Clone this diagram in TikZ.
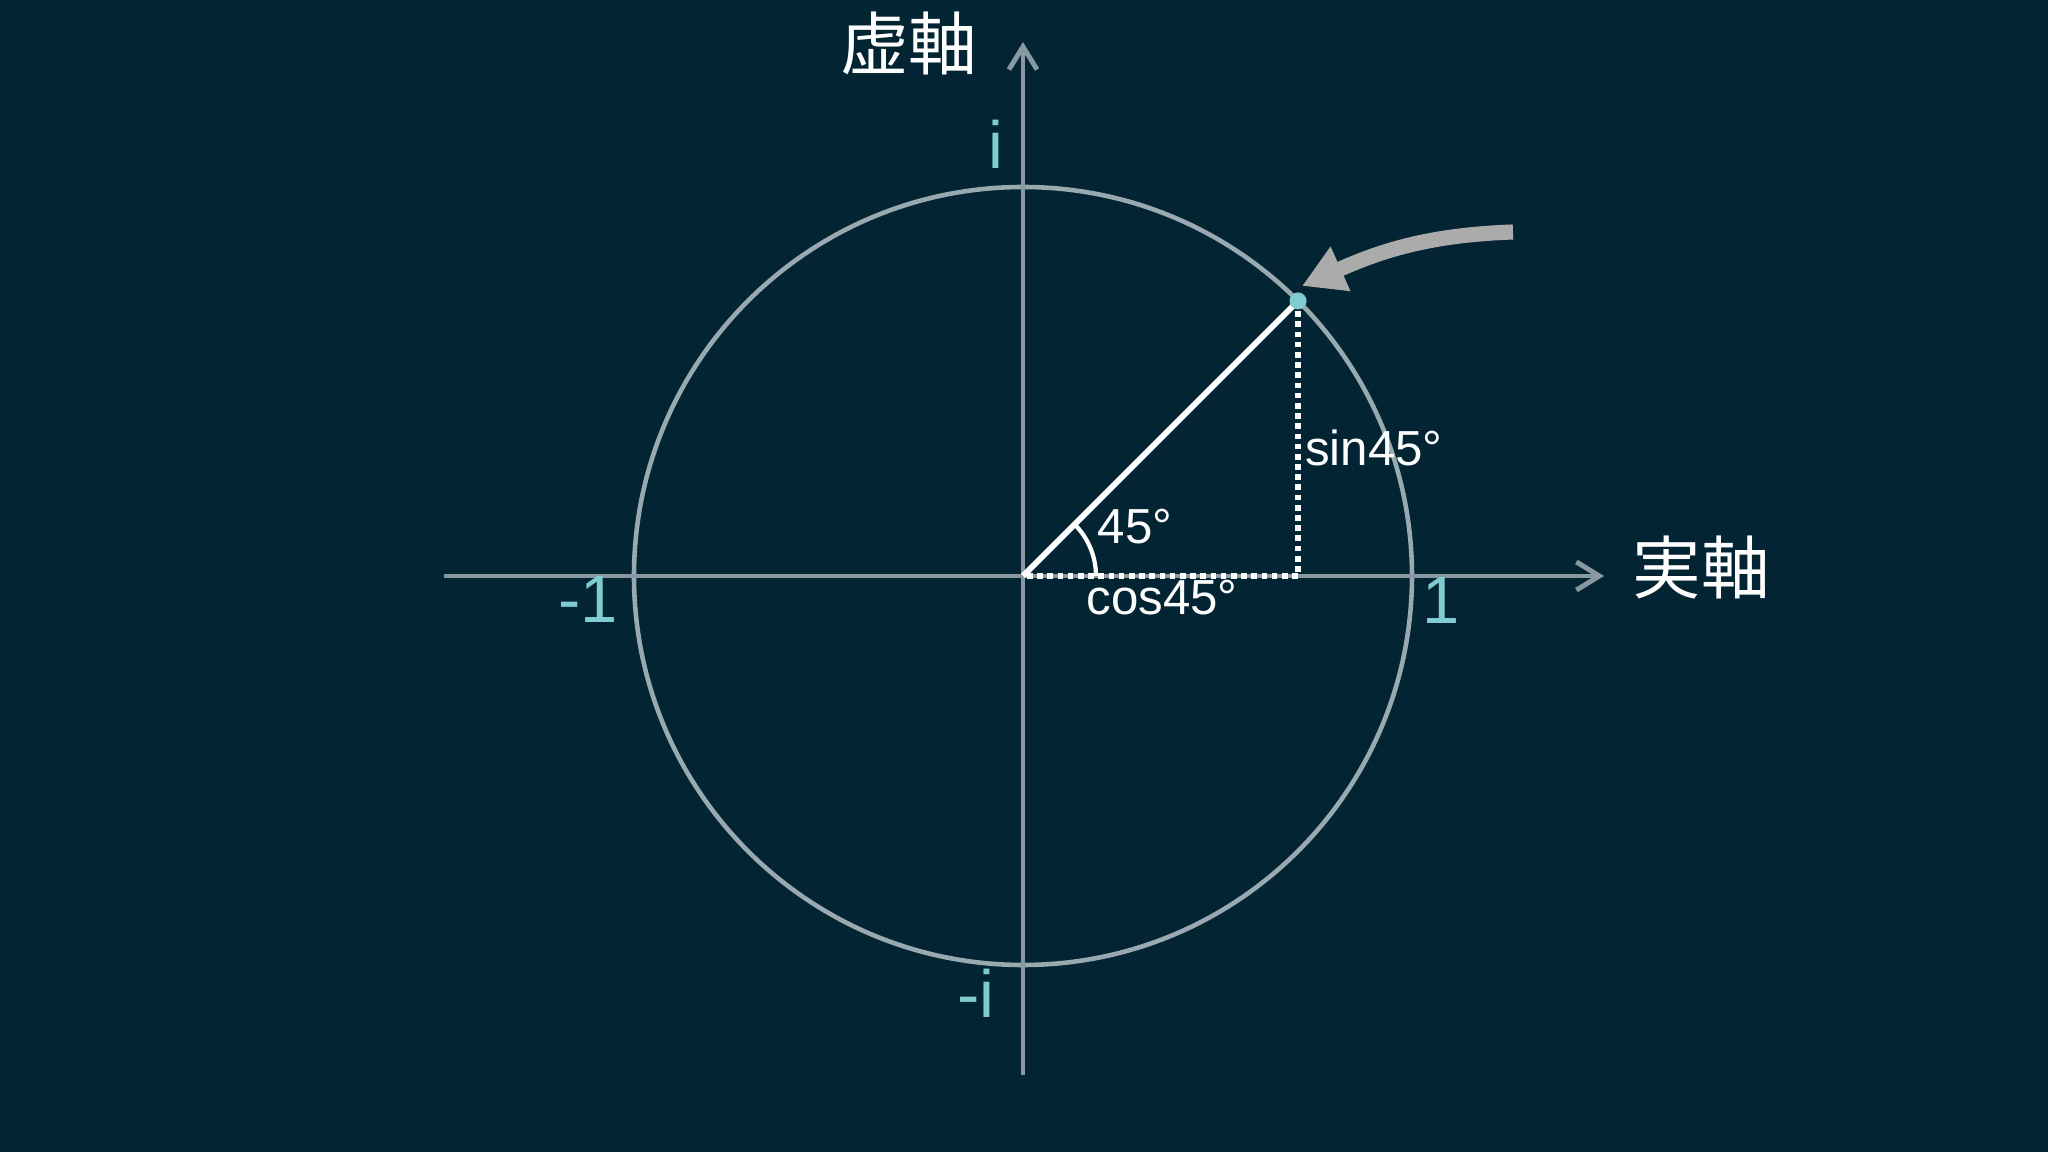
\documentclass[tikz,border=0pt]{standalone}
\usepackage{fontspec}
\setmainfont{Liberation Sans}
\newfontfamily\jpfont{Noto Sans CJK JP}
\usetikzlibrary{arrows.meta}

\definecolor{bgnavy}{HTML}{032433}
\definecolor{axisgrey}{HTML}{8899A1}
\definecolor{circgrey}{HTML}{98A9B0}
\definecolor{tealtxt}{HTML}{7FCDD3}
\definecolor{arrowgrey}{HTML}{ABABAB}

\begin{document}
\begin{tikzpicture}[x=0.01cm, y=0.01cm,
    axisline/.style={axisgrey, line width=1.4pt, -{Straight Barb[length=6.5pt,width=8pt]}},
    teallabel/.style={tealtxt, inner sep=0pt, font=\fontsize{19}{19}\selectfont},
    smalllabel/.style={white, inner sep=0pt, font=\fontsize{14}{14}\selectfont},
    axislabel/.style={white, inner sep=0pt, font=\jpfont\fontsize{19.5}{19.5}\selectfont},
    dotline/.style={white, line width=1.6pt, dash pattern=on 1.6pt off 1.3pt}]
\fill [bgnavy] (-1023,-576) rectangle (1025,576);
\useasboundingbox (-1023,-576) rectangle (1025,576);

\coordinate (O) at (0,0);
\coordinate (xl) at (-579,0);
\coordinate (xr) at (581,0);
\coordinate (yb) at (0,-499);
\coordinate (yt) at (0,534);
\coordinate (P) at (45:389);
\coordinate (F) at (P |- O);
\coordinate (tailA) at (490,344);
\coordinate (tipA) at (279,290);

% unit circle and axes
\draw [circgrey, line width=1.3pt] (O) circle (389);
\draw [axisline] (xl) -- (xr);
\draw [axisline] (yb) -- (yt);

% angle 45
\draw [dotline] (P) -- (F) -- (O);
\draw [white, line width=1.7pt] (O) -- (P);
\draw [white, line width=1.2pt] (73,0) arc (0:45:73);
\fill [tealtxt] (P) circle (8.5);
\draw [arrowgrey, line width=4.3pt, -{Triangle[length=12pt,width=13pt]}] (tailA) to[out=182, in=24] (tipA);

\node [teallabel] (one) at (418,-25) {1};
\node [teallabel] (mone) at (-435,-24) {-1};
\node [teallabel] (imag) at (-27,432) {i};
\node [teallabel] (mimag) at (-47,-417) {-i};
\node [smalllabel] (ang) at (112,49) {45°};
\node [smalllabel] (cosl) at (139,-22) {cos45°};
\node [smalllabel] (sinl) at (351,128) {sin45°};
\node [axislabel] (re) at (678,8) {実軸};
\node [axislabel] (im) at (-114,533) {虚軸};

\end{tikzpicture}
\end{document}
